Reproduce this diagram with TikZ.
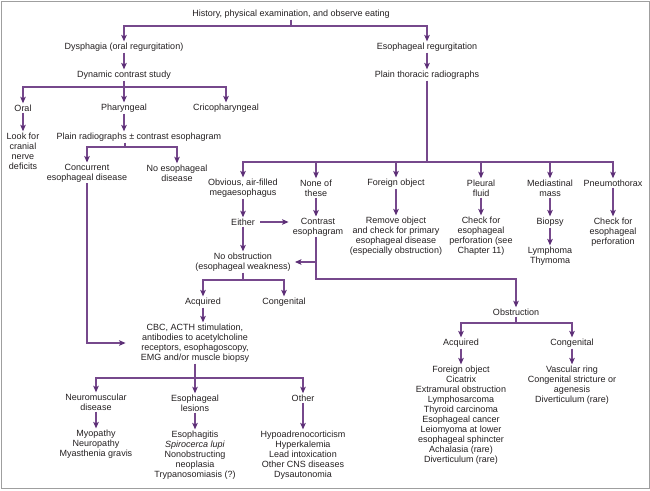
\documentclass[tikz,border=0pt]{standalone}
\usepackage{fontspec}
\setmainfont{Liberation Sans}
\usetikzlibrary{arrows.meta}
\definecolor{flowline}{RGB}{118,72,140}
\definecolor{flowtip}{RGB}{92,46,118}
\definecolor{flowtext}{RGB}{35,31,32}
\tikzset{
  box/.style={align=center, inner sep=1.2pt, text=flowtext, font=\fontsize{9}{10}\selectfont},
  ln/.style={flowline, line width=1.3pt},
  arr/.style={ln, -{Stealth[length=6.5pt,width=5.5pt,inset=1.5pt,flowtip]}},
}
\begin{document}
\begin{tikzpicture}[x=1pt,y=-1pt]
\useasboundingbox (0,0) rectangle (650,490);
\draw[gray!75, line width=1pt] (1,1) rectangle (649,488);
%TOP
\node[box] (hist) at (291,14) {History, physical examination, and observe eating};
\coordinate (histbus) at (291,26);
\draw[ln] (hist) -- (histbus);
%DYSPHAGIA
\node[box] (dys) at (124,47) {Dysphagia (oral regurgitation)};
\node[box] (dyn) at (124,75) {Dynamic contrast study};
\node[box] (oral) at (23,108) {Oral};
\node[box] (phar) at (124,108) {Pharyngeal};
\node[box] (crico) at (226,108) {Cricopharyngeal};
\node[box] (cranial) at (23,151) {Look for\\cranial\\nerve\\deficits};
\node[box] (plainrad) at (139,137) {Plain radiographs ± contrast esophagram};
\node[box] (concur) at (87,173) {Concurrent\\esophageal disease};
\node[box] (noeso) at (177,173) {No esophageal\\disease};
\coordinate (dynbus) at (124,87);
\coordinate (plainbus) at (125,147);
\draw[arr] (histbus) -| (dys);
\draw[arr] (dys) -- (dyn);
\draw[ln] (dyn) -- (dynbus);
\draw[arr] (dynbus) -| (oral);
\draw[arr] (dynbus) -| (phar);
\draw[arr] (dynbus) -| (crico);
\draw[arr] (oral) -- (cranial);
\draw[arr] (phar) -- (phar |- plainrad.north);
\draw[ln] (plainbus |- plainrad.south) -- (plainbus);
\draw[arr] (plainbus) -| (concur);
\draw[arr] (plainbus) -| (noeso);
%REGURGITATION
\node[box] (regurg) at (427,47) {Esophageal regurgitation};
\node[box] (thor) at (427,75) {Plain thoracic radiographs};
\node[box] (mega) at (243,188) {Obvious, air-filled\\megaesophagus};
\node[box] (none) at (316,188) {None of\\these};
\node[box] (foreign) at (396,183) {Foreign object};
\node[box] (pleural) at (481,188) {Pleural\\fluid};
\node[box] (mediast) at (550,188) {Mediastinal\\mass};
\node[box] (pneumo) at (613,183) {Pneumothorax};
\node[box] (either) at (243,222) {Either};
\node[box] (contrast) at (318,227) {Contrast\\esophagram};
\node[box] (remove) at (396,236) {Remove object\\and check for primary\\esophageal disease\\(especially obstruction)};
\node[box] (checkperf) at (481,236) {Check for\\esophageal\\perforation (see\\Chapter 11)};
\node[box] (biopsy) at (550,222) {Biopsy};
\node[box] (lympho) at (550,256) {Lymphoma\\Thymoma};
\node[box] (checkpneu) at (613,232) {Check for\\esophageal\\perforation};
\coordinate (thorbus) at (427,162);
\draw[arr] (histbus) -| (regurg);
\draw[arr] (regurg) -- (thor);
\draw[ln] (thor) -- (thorbus);
\foreach \n in {mega,none,foreign,pleural,mediast,pneumo}
  \draw[arr] (thorbus) -| (\n);
\draw[arr] (mega) -- (either);
\draw[arr] (none) -- (none |- contrast.north);
\draw[arr] ([xshift=4pt]either.east) -- ([xshift=-3pt]either.east -| contrast.west);
\draw[arr] (foreign) -- (remove);
\draw[arr] (pleural) -- (checkperf);
\draw[arr] (mediast) -- (biopsy);
\draw[arr] (biopsy) -- (lympho);
\draw[arr] (pneumo) -- (checkpneu);
%NO OBSTRUCTION
\node[box] (noobst) at (243,262) {No obstruction\\(esophageal weakness)};
\node[box] (acqA) at (203,302) {Acquired};
\node[box] (congA) at (284,302) {Congenital};
\node[box] (cbc) at (195,343) {CBC, ACTH stimulation,\\antibodies to acetylcholine\\receptors, esophagoscopy,\\EMG and/or muscle biopsy};
\node[box] (neuro) at (96,402) {Neuromuscular\\disease};
\node[box] (lesion) at (195,403) {Esophageal\\lesions};
\node[box] (other) at (303,398) {Other};
\node[box] (myo) at (96,444) {Myopathy\\Neuropathy\\Myasthenia gravis};
\node[box] (esoph) at (195,455) {Esophagitis\\\textit{Spirocerca lupi}\\Nonobstructing\\neoplasia\\Trypanosomiasis (?)};
\node[box] (hypo) at (303,455) {Hypoadrenocorticism\\Hyperkalemia\\Lead intoxication\\Other CNS diseases\\Dysautonomia};
\coordinate (contrbranch) at (316,262);
\coordinate (contrbend) at (316,279);
\coordinate (noobstbus) at (243,280);
\coordinate (cbcbus) at (195,378);
\draw[arr] (either) -- (noobst);
\draw[arr] (contrbranch) -- ([xshift=3pt]noobst.east);
\draw[ln] (noobst) -- (noobstbus);
\draw[arr] (noobstbus) -| (acqA);
\draw[arr] (noobstbus) -| (congA);
\draw[arr] (acqA) -- (acqA |- cbc.north);
\draw[arr] (concur) |- ([xshift=-14pt]cbc.west);
\draw[ln] (cbc) -- (cbcbus);
\draw[arr] (cbcbus) -| (neuro);
\draw[arr] (cbcbus) -| (lesion);
\draw[arr] (cbcbus) -| (other);
\draw[arr] (neuro) -- (myo);
\draw[arr] (lesion) -- (esoph);
\draw[arr] (other) -- (hypo);
%OBSTRUCTION
\node[box] (obst) at (516,312) {Obstruction};
\node[box] (acqB) at (461,343) {Acquired};
\node[box] (congB) at (572,343) {Congenital};
\node[box] (acqlist) at (461,415) {Foreign object\\Cicatrix\\Extramural obstruction\\Lymphosarcoma\\Thyroid carcinoma\\Esophageal cancer\\Leiomyoma at lower\\esophageal sphincter\\Achalasia (rare)\\Diverticulum (rare)};
\node[box] (conglist) at (572,385) {Vascular ring\\Congenital stricture or\\agenesis\\Diverticulum (rare)};
\coordinate (obstbus) at (516,323);
\draw[arr] (contrast.south -| contrbend) -- (contrbend) -| (obst);
\draw[ln] (obst) -- (obstbus);
\draw[arr] (obstbus) -| (acqB);
\draw[arr] (obstbus) -| (congB);
\draw[arr] (acqB) -- (acqlist);
\draw[arr] (congB) -- (conglist);
\end{tikzpicture}
\end{document}
